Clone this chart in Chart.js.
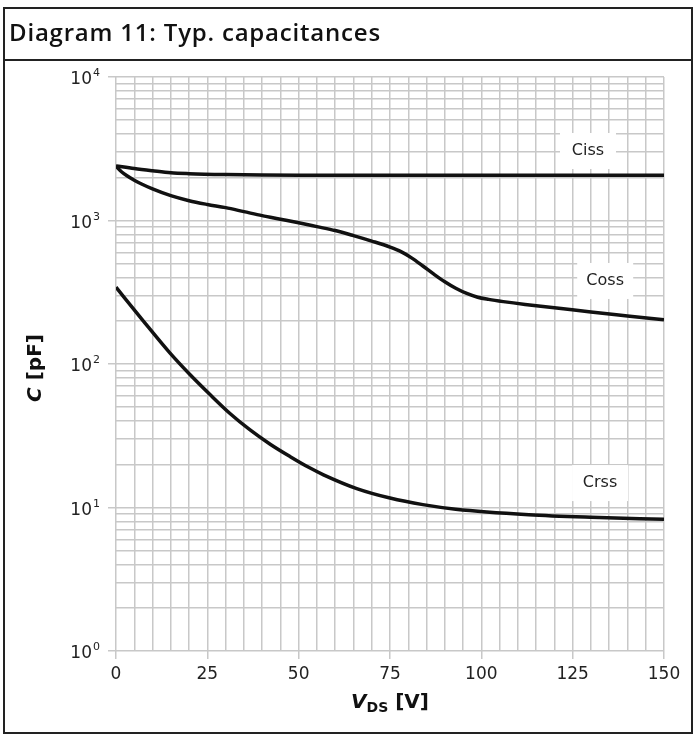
<!DOCTYPE html>
<html>
<head>
<meta charset="utf-8">
<script src="https://cdn.jsdelivr.net/npm/chart.js@4/dist/chart.umd.min.js"></script>
<style>
  html, body { margin: 0; padding: 0; background: #fff; }
  #wrap { position: relative; width: 695px; height: 736px; }
  #c { position: absolute; left: 0; top: 0; }
  #frame { position: absolute; left: 3px; top: 7px; width: 686px; height: 723px;
           border: 2px solid #222; pointer-events: none; }
  #title { position: absolute; left: 0; top: 0; right: 0;
           border-bottom: 2px solid #222; font-family: "Open Sans", sans-serif;
           font-weight: 600; font-size: 24px; letter-spacing: 0.8px; color: #111; line-height: 46px;
           padding-left: 4px; box-sizing: border-box; height: 52px; }
</style>
</head>
<body>
<div id="wrap">
  <canvas id="c" width="695" height="736"></canvas>
  <div id="frame"><div id="title">Diagram 11: Typ. capacitances</div></div>
</div>
<script>
// ---- data ----
const cissV = [0, 5, 10, 15, 20, 30, 40, 50, 75, 100, 125, 150];
const cissC = [2400, 2300, 2220, 2150, 2120, 2090, 2075, 2070, 2070, 2070, 2070, 2070];

const cossV = [0, 0.5, 1.5, 3, 5, 7, 10, 15, 20, 25, 30, 35, 40, 45, 50, 55, 60, 65, 70, 75, 78, 81, 84, 87, 90, 93, 96, 99, 102, 106, 112, 120, 130, 140, 150];
const cossC = [2400, 2317, 2188, 2049, 1908, 1797, 1660, 1489, 1374, 1294, 1229, 1153, 1081, 1021, 964, 906, 851, 785, 719, 653, 607, 547, 482, 423, 374, 337, 310, 292, 282, 272, 260, 247, 230, 216, 203];

const crssV = [0, 7.5, 14.8, 20.3, 25.8, 31.2, 36.7, 42.2, 47.7, 53, 56.8, 65.9, 75, 84, 93, 113, 130, 150];
const crssC = [343, 199, 119, 84.1, 61.0, 45.2, 34.7, 27.6, 22.6, 18.9, 16.9, 13.55, 11.64, 10.47, 9.73, 8.91, 8.55, 8.28];

const seriesNames = ["Ciss", "Coss", "Crss"];
const labelV = [129.2, 133.9, 132.5];
const labelC = [3050, 379, 14.8];

const xTickLabels = [0, 25, 50, 75, 100, 125, 150];
const yDecades = [1, 10, 100, 1000, 10000];
const yExponents = ["0", "1", "2", "3", "4"];

function pts(xs, ys) { return xs.map((x, i) => ({ x: x, y: ys[i] })); }

const lineStyle = { borderColor: "#111", borderWidth: 3.5, pointRadius: 0,
  cubicInterpolationMode: "monotone", fill: false };

const labelPlugin = {
  id: "curveLabels",
  beforeDatasetsDraw(chart) {
    const ctx = chart.ctx, xs = chart.scales.x, ys = chart.scales.y;
    ctx.save();
    ctx.font = "16px 'DejaVu Sans'";
    ctx.textAlign = "center";
    ctx.textBaseline = "middle";
    seriesNames.forEach((n, i) => {
      const px = xs.getPixelForValue(labelV[i]);
      const py = ys.getPixelForValue(labelC[i]);
      ctx.fillStyle = "#fff";
      ctx.fillRect(px - 28, py - 18, 56, 36);
      ctx.fillStyle = "#222";
      ctx.fillText(n, px, py);
    });
    ctx.restore();
  },
  afterDraw(chart) {
    const ctx = chart.ctx, a = chart.chartArea, ys = chart.scales.y;
    ctx.save();
    ctx.fillStyle = "#222";
    // y tick labels 10^n
    ctx.textAlign = "right";
    ctx.textBaseline = "alphabetic";
    yDecades.forEach((v, i) => {
      const py = ys.getPixelForValue(v);
      ctx.font = "11px 'DejaVu Sans'";
      const we = ctx.measureText(yExponents[i]).width;
      ctx.fillText(yExponents[i], 100, py - 1);
      ctx.font = "17px 'DejaVu Sans'";
      ctx.fillText("10", 100 - we - 1, py + 7);
    });
    ctx.fillStyle = "#111";
    // x-axis title: V_DS [V]
    const cx = (a.left + a.right) / 2, by = 708;
    const f1 = "italic bold 20px 'DejaVu Sans'";
    const f2 = "bold 14px 'DejaVu Sans'";
    const f3 = "bold 20px 'DejaVu Sans'";
    ctx.textAlign = "left";
    ctx.font = f1; const w1 = ctx.measureText("V").width;
    ctx.font = f2; const w2 = ctx.measureText("DS").width;
    ctx.font = f3; const w3 = ctx.measureText(" [V]").width;
    let sx = cx - (w1 + w2 + w3) / 2;
    ctx.font = f1; ctx.fillText("V", sx, by); sx += w1;
    ctx.font = f2; ctx.fillText("DS", sx, by + 4); sx += w2;
    ctx.font = f3; ctx.fillText(" [V]", sx, by);
    // y-axis title: C [pF]
    ctx.translate(36, 368);
    ctx.rotate(-Math.PI / 2);
    ctx.font = "italic bold 20px 'DejaVu Sans'"; const wc = ctx.measureText("C").width;
    ctx.font = "bold 20px 'DejaVu Sans'"; const wr = ctx.measureText(" [pF]").width;
    let tx = -(wc + wr) / 2;
    ctx.textBaseline = "middle";
    ctx.font = "italic bold 20px 'DejaVu Sans'"; ctx.fillText("C", tx, 0); tx += wc;
    ctx.font = "bold 20px 'DejaVu Sans'"; ctx.fillText(" [pF]", tx, 0);
    ctx.restore();
  }
};

const gridColor = "#c8c8c8";

new Chart(document.getElementById("c"), {
  type: "line",
  data: {
    datasets: [
      Object.assign({ label: "Ciss", data: pts(cissV, cissC) }, lineStyle),
      Object.assign({ label: "Coss", data: pts(cossV, cossC) }, lineStyle),
      Object.assign({ label: "Crss", data: pts(crssV, crssC) }, lineStyle)
    ]
  },
  options: {
    responsive: false,
    animation: false,
    events: [],
    layout: { padding: { left: 0, top: 77, right: 31, bottom: 0 } },
    plugins: { legend: { display: false }, tooltip: { enabled: false }, title: { display: false } },
    scales: {
      x: {
        type: "linear", min: 0, max: 150,
        afterFit(s) { s.height = 85; },
        border: { display: false },
        grid: { color: gridColor, lineWidth: 1.5, tickLength: 8,
          tickColor: (c) => (c.tick && xTickLabels.includes(c.tick.value)) ? gridColor : "rgba(0,0,0,0)" },
        ticks: { stepSize: 5, autoSkip: false, maxRotation: 0, padding: 5,
          color: "#222", font: { family: "DejaVu Sans", size: 17 },
          callback: (v) => xTickLabels.includes(v) ? String(v) : "" }
      },
      y: {
        type: "logarithmic", min: 1, max: 10000,
        afterFit(s) { s.width = 116; },
        afterBuildTicks(s) {
          const t = [];
          for (let d = 0; d < 4; d++) for (let m = 1; m < 10; m++) t.push({ value: m * Math.pow(10, d) });
          t.push({ value: 10000 });
          s.ticks = t;
        },
        border: { display: false },
        grid: { color: gridColor, lineWidth: 1.5, tickLength: 8,
          tickColor: (c) => (c.tick && yDecades.includes(c.tick.value)) ? gridColor : "rgba(0,0,0,0)" },
        ticks: { autoSkip: false, padding: 6, color: "#222", font: { family: "DejaVu Sans", size: 16 },
          callback: () => "" }
      }
    }
  },
  plugins: [labelPlugin]
});
</script>
</body>
</html>
